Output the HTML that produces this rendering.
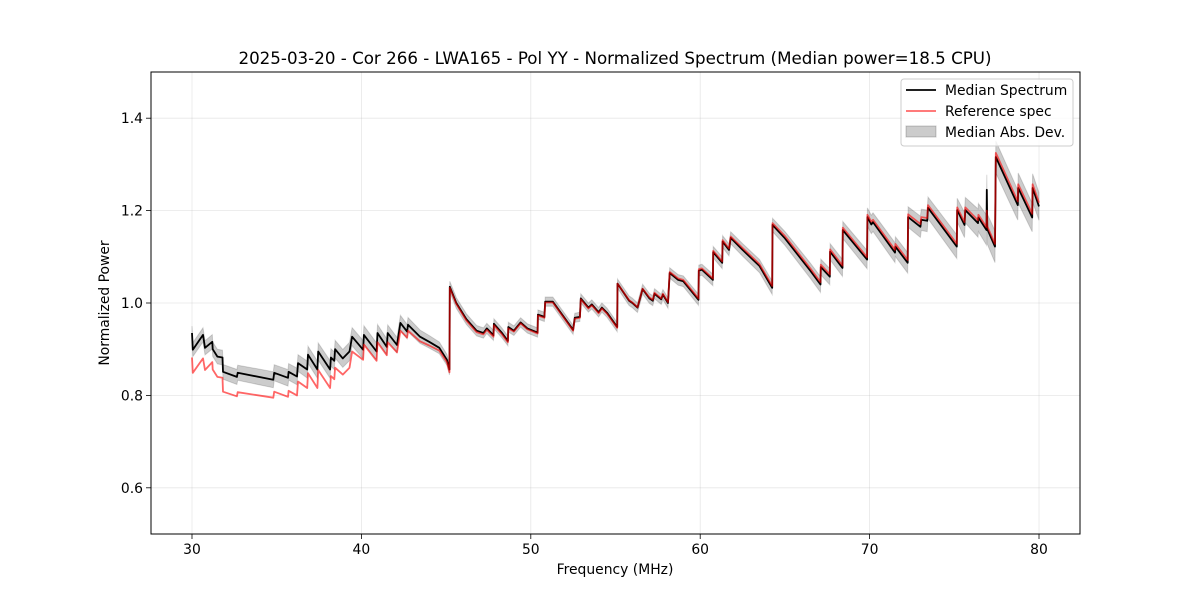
<!DOCTYPE html>
<html><head><meta charset="utf-8"><style>
body{margin:0;background:#fff;}
svg{display:block;font-family:"DejaVu Sans","Liberation Sans",sans-serif;}
</style></head><body>
<svg id="chart" width="1200" height="600" xmlns="http://www.w3.org/2000/svg">
<rect width="1200" height="600" fill="#fff"/>
<text x="615" y="64" text-anchor="middle" font-size="16.7">2025-03-20 - Cor 266 - LWA165 - Pol YY - Normalized Spectrum (Median power=18.5 CPU)</text>
<g id="grid"></g>
<g id="plot"></g>
<rect x="151" y="72" width="929" height="462" fill="none" stroke="#000" stroke-width="1"/>
<g id="ticks"></g>
<text x="615" y="574" text-anchor="middle" font-size="13.9">Frequency (MHz)</text>
<text x="109" y="303" text-anchor="middle" font-size="13.9" transform="rotate(-90 109 303)">Normalized Power</text>
<g>
<rect x="901" y="79" width="172" height="67" rx="3" fill="#fff" fill-opacity="0.8" stroke="#ccc"/>
<line x1="906" y1="90" x2="936" y2="90" stroke="#000" stroke-width="1.8"/>
<text x="945" y="95" font-size="13.9">Median Spectrum</text>
<line x1="906" y1="111" x2="936" y2="111" stroke="#ff0000" stroke-opacity="0.6" stroke-width="1.8"/>
<text x="945" y="116" font-size="13.9">Reference spec</text>
<rect x="906" y="126" width="30" height="11" fill="#000" fill-opacity="0.2" stroke="#000" stroke-opacity="0.2"/>
<text x="945" y="137" font-size="13.9">Median Abs. Dev.</text>
</g>
</svg>
<script>
const freqs=[30.0,30.05,30.65,30.77,31.2,31.22,31.5,31.8,31.83,32.65,32.7,34.8,34.85,35.67,35.7,36.2,36.26,36.8,36.85,37.4,37.45,38.15,38.2,38.4,38.45,38.9,39.3,39.45,40.1,40.15,40.9,40.95,41.5,41.55,42.1,42.3,42.7,42.75,43.46,44.0,44.6,45.05,45.2,
45.22,45.6,46.2,46.8,47.2,47.4,47.8,47.82,48.3,48.65,48.67,49.0,49.4,49.8,50.4,50.42,50.8,50.85,51.3,52.5,52.6,52.9,52.95,53.4,53.6,54.0,54.2,54.5,55.1,55.12,55.8,56.0,56.3,56.6,57.0,57.2,57.3,57.7,57.8,58.1,58.2,58.7,59.0,59.9,59.92,60.1,60.75,60.77,61.3,61.32,61.7,61.8,62.5,63.5,64.25,64.27,65.0,66.5,67.1,67.12,67.65,67.67,68.4,68.42,69.85,69.87,70.1,70.2,71.5,71.52,72.25,72.27,73.0,73.05,73.4,73.45,75.15,75.17,75.6,75.65,76.4,76.42,76.9,76.92,76.95,77.4,77.45,78.75,78.77,79.6,79.62,80.0];
const medianVals=[.935,.899,.931,.903,.916,.900,.884,.882,.851,.840,.849,.834,.849,.838,.851,.841,.870,.856,.888,.856,.895,.856,.882,.875,.900,.880,.895,.927,.899,.931,.895,.935,.905,.935,.909,.957,.938,.953,.927,.916,.903,.877,.856,
1.035,1.0,.965,.94,.935,.945,.93,.955,.935,.918,.948,.94,.958,.945,.936,.975,.97,1.003,1.003,.942,.968,.97,1.01,.99,.997,.98,.99,.979,.948,1.042,1.005,1.0,.99,1.03,1.01,1.005,1.02,1.008,1.018,1.0,1.065,1.05,1.047,1.007,1.07,1.072,1.05,1.11,1.087,1.133,1.115,1.141,1.115,1.08,1.033,1.169,1.14,1.07,1.04,1.078,1.057,1.111,1.076,1.158,1.094,1.186,1.17,1.175,1.109,1.122,1.087,1.186,1.165,1.18,1.178,1.206,1.122,1.201,1.169,1.201,1.173,1.185,1.158,1.245,1.16,1.122,1.316,1.212,1.249,1.185,1.249,1.209];
const refVals=[.882,.849,.880,.855,.872,.856,.840,.838,.808,.798,.807,.795,.808,.797,.810,.800,.830,.816,.848,.816,.855,.816,.842,.835,.860,.845,.860,.895,.877,.910,.875,.915,.887,.915,.893,.940,.925,.940,.917,.908,.897,.872,.850,
1.033,.998,.962,.937,.932,.942,.927,.952,.932,.915,.945,.938,.956,.943,.934,.973,.968,1.001,1.001,.940,.966,.968,1.008,.988,.995,.978,.988,.977,.946,1.042,1.006,1.001,.991,1.031,1.012,1.007,1.022,1.010,1.02,1.002,1.067,1.053,1.05,1.01,1.073,1.075,1.053,1.113,1.09,1.136,1.118,1.144,1.119,1.084,1.037,1.173,1.145,1.075,1.045,1.083,1.062,1.116,1.081,1.163,1.099,1.191,1.176,1.18,1.115,1.128,1.093,1.192,1.171,1.186,1.184,1.212,1.128,1.207,1.175,1.207,1.179,1.191,1.164,1.200,1.166,1.128,1.325,1.22,1.257,1.193,1.257,1.217];
const madFreqs=[30,40,45,50,55,60,65,70,75,77.5,80];
const madHalf=[0.015,0.02,0.012,0.01,0.01,0.012,0.015,0.02,0.025,0.035,0.03];
const xTicks=[30,40,50,60,70,80];
const yTicks=[0.6,0.8,1.0,1.2,1.4];
const X0=151,X1=1080,Y0=72,Y1=534,XMIN=27.58,XMAX=82.42,YMIN=0.5,YMAX=1.5;
const sx=f=>X0+(f-XMIN)/(XMAX-XMIN)*(X1-X0);
const sy=v=>Y1-(v-YMIN)/(YMAX-YMIN)*(Y1-Y0);
const NS='http://www.w3.org/2000/svg';
function mk(tag,attrs,parent){const e=document.createElementNS(NS,tag);for(const k in attrs)e.setAttribute(k,attrs[k]);parent.appendChild(e);return e;}
const grid=document.getElementById('grid'),plot=document.getElementById('plot'),ticks=document.getElementById('ticks');
xTicks.forEach(t=>{const x=sx(t);
 const g=mk('line',{x1:x,x2:x,y1:Y0,y2:Y1,stroke:'#b0b0b0','stroke-opacity':0.3,'stroke-width':0.8},grid);
 
 
 const tk=mk('line',{x1:x,x2:x,y1:Y1,y2:Y1+5,stroke:'#000','stroke-width':0.8},ticks);
 
 
 const tl=mk('text',{x:x,y:Y1+20,'text-anchor':'middle','font-size':13.9},ticks);tl.textContent=String(t);
 
 
});
yTicks.forEach(t=>{const y=sy(t);
 const g=mk('line',{x1:X0,x2:X1,y1:y,y2:y,stroke:'#b0b0b0','stroke-opacity':0.3,'stroke-width':0.8},grid);
 
 
 const tk=mk('line',{x1:X0-5,x2:X0,y1:y,y2:y,stroke:'#000','stroke-width':0.8},ticks);
 
 
 const tl=mk('text',{x:X0-8,y:y+5,'text-anchor':'end','font-size':13.9},ticks);tl.textContent=t.toFixed(1);
 
 
});
function mad(f){for(let i=0;i<madFreqs.length-1;i++){if(f<=madFreqs[i+1]){const r=(f-madFreqs[i])/(madFreqs[i+1]-madFreqs[i]);return madHalf[i]+r*(madHalf[i+1]-madHalf[i]);}}return madHalf[madHalf.length-1];}
let up=[],dn=[];
freqs.forEach((f,i)=>{const m=mad(f);up.push(sx(f).toFixed(1)+','+sy(medianVals[i]+m).toFixed(1));dn.push(sx(f).toFixed(1)+','+sy(medianVals[i]-m).toFixed(1));});
const band=mk('polygon',{points:up.concat(dn.reverse()).join(' '),fill:'#000','fill-opacity':0.2,stroke:'#000','stroke-opacity':0.15,'stroke-width':1},plot);


const mp=freqs.map((f,i)=>sx(f).toFixed(1)+','+sy(medianVals[i]).toFixed(1)).join(' ');
const ml=mk('polyline',{points:mp,fill:'none',stroke:'#000','stroke-width':1.8,'stroke-linejoin':'round'},plot);


const rp=freqs.map((f,i)=>sx(f).toFixed(1)+','+sy(refVals[i]).toFixed(1)).join(' ');
const rl=mk('polyline',{points:rp,fill:'none',stroke:'#ff0000','stroke-opacity':0.6,'stroke-width':1.8,'stroke-linejoin':'round'},plot);


</script>
</body></html>
